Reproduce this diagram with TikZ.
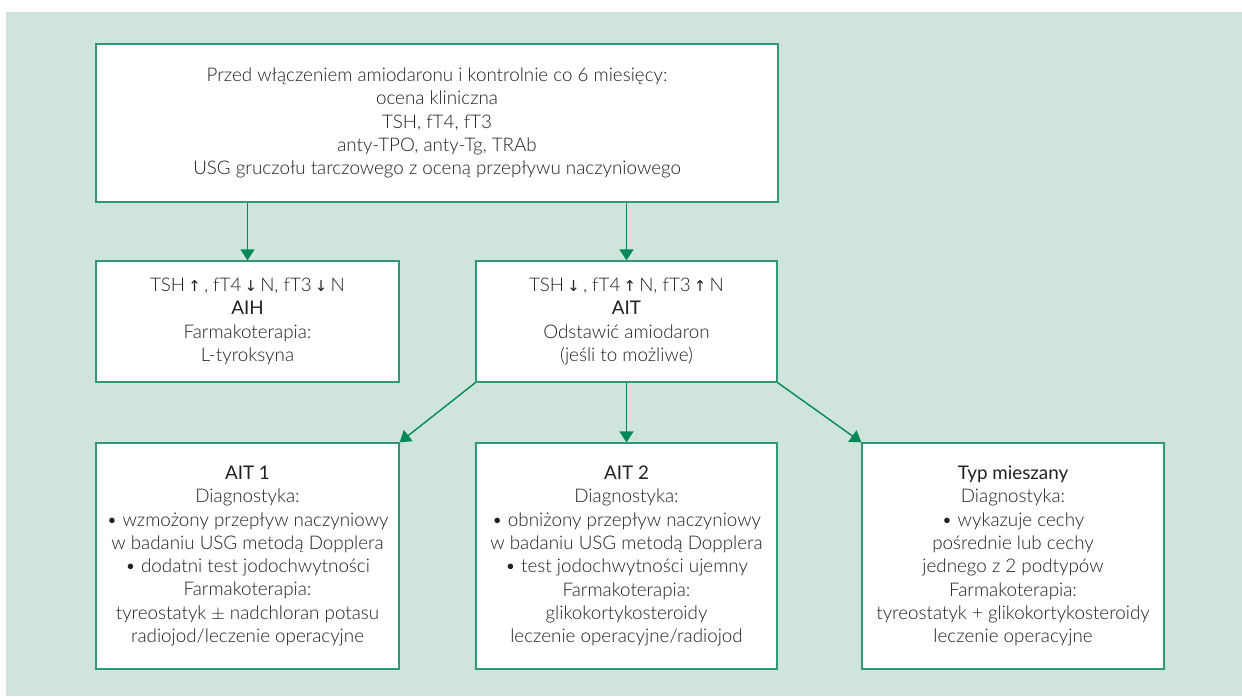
\documentclass[tikz,border=0pt]{standalone}
\usepackage{fontspec}
\setmainfont{Lato}[UprightFont=* Light, BoldFont=*]
\newfontfamily\arrfont{DejaVu Sans}
\newcommand{\myup}{{\arrfont\fontsize{15}{15}\selectfont ↑}}
\newcommand{\mydown}{{\arrfont\fontsize{15}{15}\selectfont ↓}}
\usetikzlibrary{arrows.meta}
\definecolor{bgc}{HTML}{CFE5DC}
\definecolor{boxc}{HTML}{2F9A72}
\definecolor{arrc}{HTML}{00875A}
\definecolor{txtc}{HTML}{231F20}
\tikzset{
  box/.style={draw=boxc, line width=1.3pt, fill=white, inner sep=0pt,
    align=center, text=txtc,
    font=\fontsize{18.8}{23.3}\selectfont},
  conn/.style={draw=arrc, line width=1.4pt, -{Triangle[length=11pt,width=14pt]}}
}
\begin{document}
\begin{tikzpicture}[x=1pt,y=-1pt]
\useasboundingbox (0,0) rectangle (1242,696);
\fill[bgc] (6,12) rectangle (1242,696);

\node[box, minimum width=682pt, minimum height=158pt] (top) at (437,123)
 {Przed włączeniem amiodaronu i kontrolnie co 6 miesięcy:\\
  ocena kliniczna\\
  TSH, fT4, fT3\\
  anty-TPO, anty-Tg, TRAb\\
  USG gruczołu tarczowego z oceną przepływu naczyniowego};

\node[box, minimum width=303pt, minimum height=121pt] (aih) at (247.5,321.5)
 {TSH\,\myup\,, fT4\,\mydown\,N, fT3\,\mydown\,N\\
  \textbf{AIH}\\
  Farmakoterapia:\\
  L-tyroksyna};

\node[box, minimum width=301pt, minimum height=121pt] (ait) at (626.5,321.5)
 {TSH\,\mydown\,, fT4\,\myup\,N, fT3\,\myup\,N\\
  \textbf{AIT}\\
  Odstawić amiodaron\\
  (jeśli to możliwe)};

\node[box, minimum width=303pt, minimum height=226pt] (ait1) at (247.5,556)
 {\textbf{AIT 1}\\
  Diagnostyka:\\
  • wzmożony przepływ naczyniowy\\
  w badaniu USG metodą Dopplera\\
  • dodatni test jodochwytności\\
  Farmakoterapia:\\
  tyreostatyk $\pm$ nadchloran potasu\\
  radiojod/leczenie operacyjne};

\node[box, minimum width=301pt, minimum height=226pt] (ait2) at (626.5,556)
 {\textbf{AIT 2}\\
  Diagnostyka:\\
  • obniżony przepływ naczyniowy\\
  w badaniu USG metodą Dopplera\\
  • test jodochwytności ujemny\\
  Farmakoterapia:\\
  glikokortykosteroidy\\
  leczenie operacyjne/radiojod};

\node[box, minimum width=302pt, minimum height=226pt] (typ) at (1013,556)
 {\textbf{Typ mieszany}\\
  Diagnostyka:\\
  • wykazuje cechy\\
  pośrednie lub cechy\\
  jednego z 2 podtypów\\
  Farmakoterapia:\\
  tyreostatyk + glikokortykosteroidy\\
  leczenie operacyjne};

\draw[conn] (aih.north |- top.south) -- (aih.north);
\draw[conn] (ait.north |- top.south) -- (ait.north);
\draw[conn] (ait.south) -- (ait2.north);
\draw[conn] (ait.south west) -- (ait1.north east);
\draw[conn] (ait.south east) -- (typ.north west);
\end{tikzpicture}
\end{document}
